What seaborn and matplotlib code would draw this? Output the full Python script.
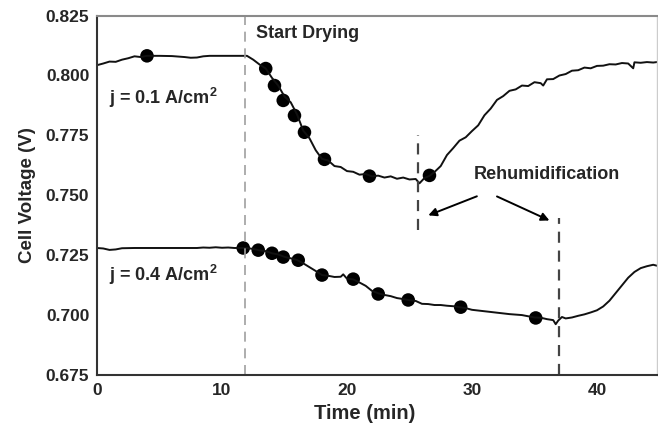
import matplotlib
matplotlib.use("Agg")
import matplotlib.pyplot as plt
import seaborn as sns
import pandas as pd

# time axis (min) and cell voltage (V)
t_hi = [0, 0.5, 1, 1.5, 2, 2.5, 3, 3.5, 4, 5, 6, 7, 7.5, 8, 8.5, 9, 10, 11, 12,
        12.5, 13, 13.5, 14, 14.5, 15, 15.5, 16, 16.5, 17, 17.5, 18, 18.5, 19,
        19.5, 20, 20.5, 21, 21.5, 22, 22.5, 23, 23.5, 24, 24.5, 25, 25.5, 25.8,
        26.2, 26.6, 27, 27.5, 28, 28.5, 29, 29.5, 30, 30.5, 31, 31.5, 32, 32.5,
        33, 33.5, 34, 34.5, 35, 35.5, 35.7, 36, 36.5, 37, 37.5, 38, 38.5, 39,
        39.5, 40, 40.5, 41, 41.5, 42, 42.5, 42.9, 43, 43.5, 44, 44.5, 44.8]
v_hi = [0.8043, 0.8050, 0.8058, 0.8057, 0.8066, 0.8072, 0.8080, 0.8077, 0.8082,
        0.8082, 0.8081, 0.8077, 0.8074, 0.8075, 0.8080, 0.8082, 0.8082, 0.8082,
        0.8082, 0.8066, 0.8046, 0.8029, 0.7990, 0.7958, 0.7912, 0.7888, 0.7838,
        0.7770, 0.7738, 0.7688, 0.7652, 0.7645, 0.7622, 0.7618, 0.7601, 0.7598,
        0.7586, 0.7589, 0.7579, 0.7582, 0.7574, 0.7579, 0.7569, 0.7574, 0.7566,
        0.7568, 0.7550, 0.7572, 0.7581, 0.7597, 0.7622, 0.7668, 0.7697, 0.7728,
        0.7742, 0.7768, 0.7792, 0.7834, 0.7862, 0.7898, 0.7914, 0.7936, 0.7942,
        0.7958, 0.7956, 0.7972, 0.7968, 0.7958, 0.7984, 0.7985, 0.8000, 0.8006,
        0.8020, 0.8022, 0.8033, 0.8030, 0.8040, 0.8041, 0.8047, 0.8046, 0.8052,
        0.8050, 0.8030, 0.8055, 0.8053, 0.8056, 0.8054, 0.8056]

t_lo = [0, 0.5, 1, 1.5, 2, 3, 4, 5, 6, 7, 8, 8.5, 9, 9.5, 10, 10.5, 11, 12,
        12.5, 13, 13.5, 14, 14.5, 15, 15.5, 16, 16.5, 17, 17.5, 18, 18.5, 19,
        19.5, 19.7, 20, 20.5, 21, 21.5, 22, 22.5, 23, 23.5, 24, 24.5, 25, 25.5,
        26, 26.5, 27, 27.5, 28, 28.5, 29, 29.5, 30, 31, 32, 33, 34, 35, 35.5, 36,
        36.5, 36.7, 36.9, 37.2, 37.5, 38, 38.5, 39, 39.5, 40, 40.5, 41, 41.5,
        42, 42.5, 43, 43.5, 44, 44.5, 44.8]
v_lo = [0.7280, 0.7278, 0.7272, 0.7274, 0.7279, 0.7280, 0.7280, 0.7280, 0.7280,
        0.7280, 0.7280, 0.7282, 0.7281, 0.7283, 0.7281, 0.7282, 0.7280, 0.7280,
        0.7276, 0.7270, 0.7267, 0.7258, 0.7253, 0.7243, 0.7237, 0.7230, 0.7216,
        0.7200, 0.7184, 0.7167, 0.7164, 0.7159, 0.7160, 0.7170, 0.7152, 0.7149,
        0.7136, 0.7122, 0.7101, 0.7091, 0.7084, 0.7079, 0.7071, 0.7067, 0.7062,
        0.7059, 0.7047, 0.7046, 0.7042, 0.7042, 0.7039, 0.7037, 0.7033, 0.7029,
        0.7022, 0.7016, 0.7010, 0.7004, 0.7000, 0.6990, 0.6989, 0.6983, 0.6979,
        0.6962, 0.6977, 0.6992, 0.6986, 0.6990, 0.6997, 0.7003, 0.7011, 0.7020,
        0.7036, 0.7060, 0.7092, 0.7124, 0.7156, 0.7180, 0.7196, 0.7204, 0.7210,
        0.7206]

# filled markers on the curves
dot_t_hi = [4.0, 13.5, 14.2, 14.9, 15.8, 16.6, 18.2, 21.8, 26.6]
dot_v_hi = [0.8082, 0.8029, 0.7958, 0.7896, 0.7833, 0.7763, 0.7650, 0.7580, 0.7583]
dot_t_lo = [11.7, 12.9, 14.0, 14.9, 16.1, 18.0, 20.5, 22.5, 24.9, 29.1, 35.1]
dot_v_lo = [0.7280, 0.7271, 0.7258, 0.7242, 0.7229, 0.7167, 0.7150, 0.7088,
            0.7063, 0.7033, 0.6988]

start_drying = 11.85
rehum_hi = 25.7
rehum_lo = 36.95

sns.set_style("white")
plt.rcParams['font.family'] = ['Liberation Sans', 'DejaVu Sans']
plt.rcParams['font.weight'] = 'bold'
plt.rcParams['mathtext.fontset'] = 'custom'
plt.rcParams['mathtext.bf'] = 'Liberation Sans:bold'
plt.rcParams['mathtext.rm'] = 'Liberation Sans:bold'

fig = plt.figure(figsize=(6.58, 4.33), dpi=100)
ax = fig.add_axes([0.1474, 0.134, 0.851, 0.830])

hi = pd.DataFrame({"t": t_hi, "v": v_hi})
lo = pd.DataFrame({"t": t_lo, "v": v_lo})
sns.lineplot(data=hi, x="t", y="v", ax=ax, color="#111111", lw=1.4)
sns.lineplot(data=lo, x="t", y="v", ax=ax, color="#111111", lw=1.4)
sns.scatterplot(x=dot_t_hi, y=dot_v_hi, ax=ax, color="black", s=95, edgecolor="none")
sns.scatterplot(x=dot_t_lo, y=dot_v_lo, ax=ax, color="black", s=95, edgecolor="none")

ax.axvline(start_drying, color="#a0a0a0", lw=1.2, ls=(0, (6, 4)))
ax.plot([rehum_hi, rehum_hi], [0.7354, 0.7750], color="#444444", lw=1.6, ls=(0, (5, 3.5)))
ax.plot([rehum_lo, rehum_lo], [0.675, 0.7404], color="#444444", lw=1.6, ls=(0, (5, 3.5)))

ax.set_xlim(0, 44.8)
ax.set_ylim(0.675, 0.825)
ax.set_xticks([0, 10, 20, 30, 40])
ax.set_yticks([0.675, 0.700, 0.725, 0.750, 0.775, 0.800, 0.825])
ax.set_yticklabels(["0.675", "0.700", "0.725", "0.750", "0.775", "0.800", "0.825"])
ax.tick_params(labelsize=12.5, length=4, width=1.2, direction="inout", color="#333333")
ax.set_xlabel("Time (min)", fontsize=14.5, fontweight="bold")
ax.xaxis.set_label_coords(0.478, -0.08)
ax.set_ylabel("Cell Voltage (V)", fontsize=13.5, fontweight="bold", labelpad=7)

for side in ["left", "bottom"]:
    ax.spines[side].set_color("#333333")
    ax.spines[side].set_linewidth(1.5)
ax.spines["top"].set_color("#8a8a8a")
ax.spines["top"].set_linewidth(1.5)
ax.spines["right"].set_color("#cccccc")
ax.spines["right"].set_linewidth(1.0)

ax.text(12.7, 0.8175, "Start Drying", fontsize=13, fontweight="bold", va="center")
ax.text(1.0, 0.7908, "j = 0.1 A/cm$^{\\mathbf{2}}$", fontsize=13, fontweight="bold", va="center")
ax.text(1.0, 0.7167, "j = 0.4 A/cm$^{\\mathbf{2}}$", fontsize=13, fontweight="bold", va="center")
ax.text(36.0, 0.7585, "Rehumidification", fontsize=13, fontweight="bold",
        ha="center", va="center")
arrow = dict(arrowstyle="-|>", color="black", lw=1.4, mutation_scale=12)
ax.annotate("", xy=(26.3, 0.7412), xytext=(30.6, 0.7500), arrowprops=arrow)
ax.annotate("", xy=(36.4, 0.7390), xytext=(31.8, 0.7500), arrowprops=arrow)

fig.savefig("out.png", dpi=100)
